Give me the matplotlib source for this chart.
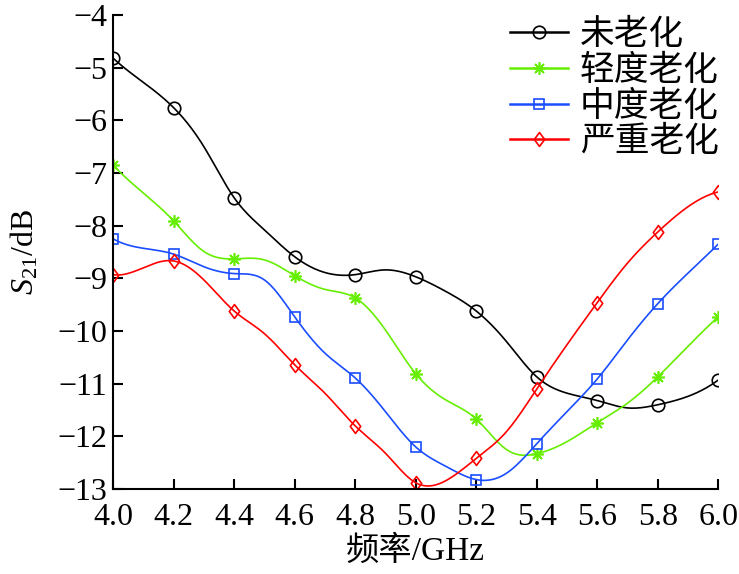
import numpy as np
import matplotlib
matplotlib.use('Agg')
import matplotlib.pyplot as plt
from matplotlib.path import Path

plt.rcParams['font.family'] = ['Liberation Serif', 'Noto Sans CJK SC']
plt.rcParams['mathtext.fontset'] = 'custom'
plt.rcParams['mathtext.rm'] = 'Liberation Serif'
plt.rcParams['mathtext.it'] = 'Liberation Serif:italic'

# curves read every 0.1 GHz, markers sit on every second point
freq = [4.0, 4.1, 4.2, 4.3, 4.4, 4.5, 4.6, 4.7, 4.8, 4.9, 5.0,
        5.1, 5.2, 5.3, 5.4, 5.5, 5.6, 5.7, 5.8, 5.9, 6.0]
none_aged = [-4.82, -5.28, -5.76, -6.50, -7.47, -8.08, -8.59, -8.89, -8.93, -8.84, -8.97,
             -9.25, -9.62, -10.20, -10.87, -11.18, -11.32, -11.46, -11.40, -11.24, -10.93]
light_aged = [-6.85, -7.38, -7.91, -8.49, -8.63, -8.65, -8.95, -9.21, -9.37, -9.98, -10.81,
              -11.31, -11.67, -12.25, -12.33, -12.10, -11.74, -11.37, -10.87, -10.29, -9.73]
medium_aged = [-8.25, -8.43, -8.54, -8.78, -8.91, -9.03, -9.73, -10.42, -10.89, -11.53, -12.20,
               -12.57, -12.82, -12.70, -12.14, -11.53, -10.91, -10.17, -9.48, -8.90, -8.35]
heavy_aged = [-8.93, -8.80, -8.67, -9.03, -9.62, -10.05, -10.64, -11.18, -11.80, -12.32, -12.88,
              -12.84, -12.42, -11.91, -11.10, -10.26, -9.46, -8.71, -8.12, -7.64, -7.36]
labels = ['未老化', '轻度老化', '中度老化', '严重老化']
xtick_labels = ['4.0', '4.2', '4.4', '4.6', '4.8', '5.0', '5.2', '5.4', '5.6', '5.8', '6.0']


def spline(x, y, num=400):
    # not-a-knot cubic spline, like matlab's spline()
    x = np.asarray(x, float)
    y = np.asarray(y, float)
    n = len(x)
    h = np.diff(x)
    A = np.zeros((n, n))
    b = np.zeros(n)
    for i in range(1, n - 1):
        A[i, i - 1] = h[i - 1]
        A[i, i] = 2 * (h[i - 1] + h[i])
        A[i, i + 1] = h[i]
        b[i] = 6 * ((y[i + 1] - y[i]) / h[i] - (y[i] - y[i - 1]) / h[i - 1])
    A[0, 0], A[0, 1], A[0, 2] = h[1], -(h[0] + h[1]), h[0]
    A[-1, -3], A[-1, -2], A[-1, -1] = h[-1], -(h[-2] + h[-1]), h[-2]
    M = np.linalg.solve(A, b)
    xs = np.linspace(x[0], x[-1], num)
    idx = np.clip(np.searchsorted(x, xs) - 1, 0, n - 2)
    t0 = xs - x[idx]
    t1 = x[idx + 1] - xs
    hi = h[idx]
    ys = (M[idx] * t1 ** 3 + M[idx + 1] * t0 ** 3) / (6 * hi) \
        + (y[idx] / hi - M[idx] * hi / 6) * t1 + (y[idx + 1] / hi - M[idx + 1] * hi / 6) * t0
    return xs, ys


diamond = Path([(0, 1), (0.75, 0), (0, -1), (-0.75, 0), (0, 1)],
               [Path.MOVETO, Path.LINETO, Path.LINETO, Path.LINETO, Path.CLOSEPOLY])

series = [none_aged, light_aged, medium_aged, heavy_aged]
colors = ['black', '#66ee00', '#1a4dff', '#ff0000']
markers = ['o', (8, 2, 0), 's', diamond]
msizes = [9, 9, 7, 10]

fig = plt.figure(figsize=(7.39, 5.74), dpi=100)
ax = fig.add_axes([0.153, 0.148, 0.819, 0.826])

for vals, c, m, ms, lab in zip(series, colors, markers, msizes, labels):
    xs, ys = spline(freq, vals)
    ax.plot(xs, ys, color=c, lw=1.2)
    ax.plot(freq[::2], vals[::2], ls='none', marker=m, ms=ms, mfc='none', mec=c, mew=1.2)
    ax.plot([], [], color=c, lw=1.8, marker=m, ms=ms, mfc='none', mec=c, mew=1.2, label=lab)

ax.set_xlim(4.0, 6.0)
ax.set_ylim(-13, -4)
ax.set_xticks(freq[::2])
ax.set_xticklabels(xtick_labels)
ax.set_yticks(range(-13, -3))
ax.spines['top'].set_visible(False)
ax.spines['right'].set_visible(False)
ax.spines['left'].set_linewidth(1.5)
ax.spines['bottom'].set_linewidth(1.5)
ax.tick_params(direction='in', length=7, width=1.5, labelsize=23)
ax.tick_params(axis='x', pad=10)
ax.tick_params(axis='y', pad=4)
ax.set_xlabel('频率/GHz', fontsize=24, labelpad=3)
ax.set_ylabel(r'$S_{\mathrm{21}}$/dB', fontsize=23, labelpad=12)

ax.legend(loc='upper right', bbox_to_anchor=(1.035, 1.035), frameon=False, fontsize=25,
          handlelength=1.65, handletextpad=0.35, labelspacing=0.08, borderaxespad=0.2)

fig.savefig('out.png', dpi=100)
